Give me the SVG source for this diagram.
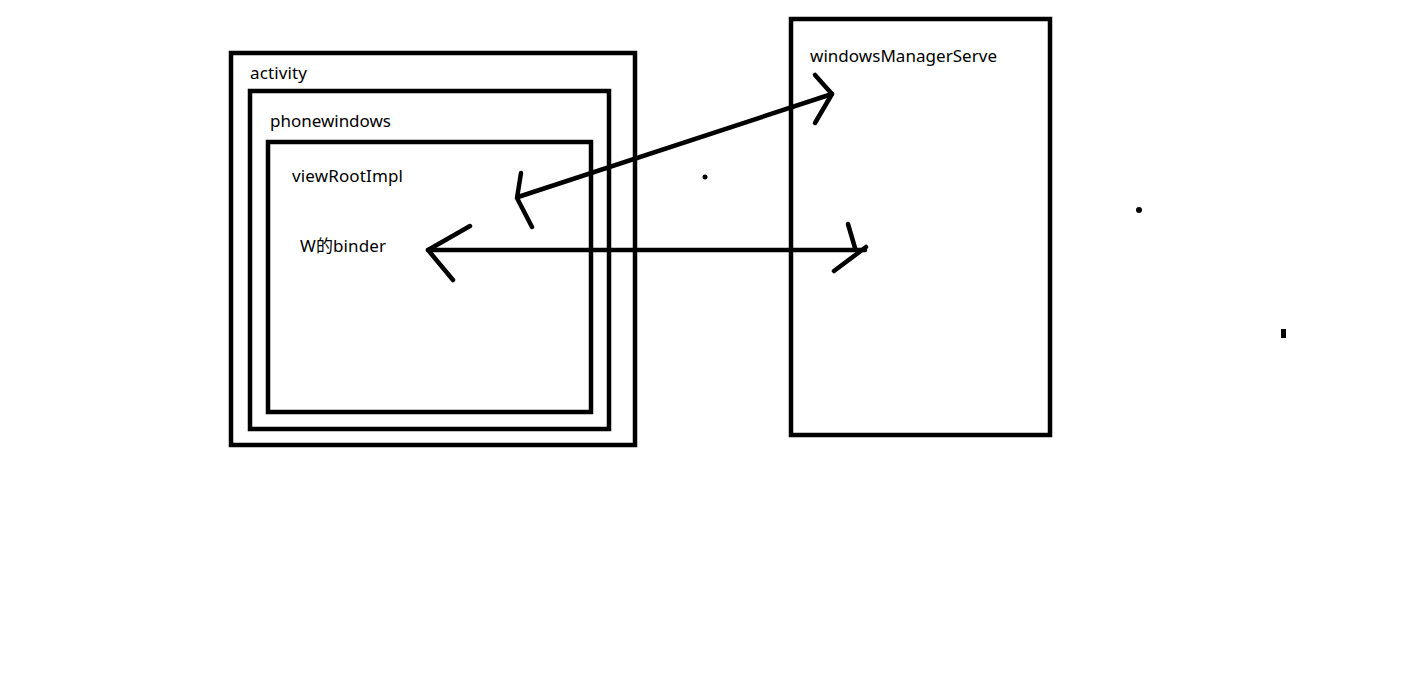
<svg xmlns="http://www.w3.org/2000/svg" width="1408" height="675" viewBox="0 0 1408 675">
<style>
.box{fill:none;stroke:#000;stroke-width:4.5}
.lbl{font-family:"Noto Sans","Noto Sans CJK SC",sans-serif;font-size:17px;fill:#000}
.ln{fill:none;stroke:#000;stroke-width:4.5;stroke-linecap:round;stroke-linejoin:round}
</style>
<rect width="1408" height="675" fill="#fff"/>
<g id="activity">
<rect class="box" x="231" y="53" width="404" height="392"/>
<text class="lbl" x="250" y="79" textLength="57">activity</text>
</g>
<g id="phonewindows">
<rect class="box" x="250" y="91" width="359" height="338"/>
<text class="lbl" x="270" y="127" textLength="121">phonewindows</text>
</g>
<g id="viewRootImpl">
<rect class="box" x="268" y="142" width="323" height="270"/>
<text class="lbl" x="292" y="182" textLength="111">viewRootImpl</text>
<text class="lbl" x="300" y="252" textLength="86">W的binder</text>
</g>
<g id="windowsManagerServe">
<rect class="box" x="791" y="19" width="259" height="416"/>
<text class="lbl" x="810" y="62" textLength="187">windowsManagerServe</text>
</g>
<g id="connectors">
<path class="ln" d="M518,197 L832,94"/>
<path class="ln" d="M521,173 L517,198 L532,227"/>
<path class="ln" d="M815,75 L832,94 L815,123"/>
<path class="ln" d="M428,250 L865,250"/>
<path class="ln" d="M470,226 L428,250 L453,280"/>
<path class="ln" d="M848,224 L855,248"/>
<path class="ln" d="M866,247 L834,271"/>
</g>
<circle cx="705" cy="177" r="2.5" fill="#000"/>
<circle cx="1139" cy="210" r="3" fill="#000"/>
<rect x="1281" y="329" width="5" height="9" fill="#000"/>
</svg>
